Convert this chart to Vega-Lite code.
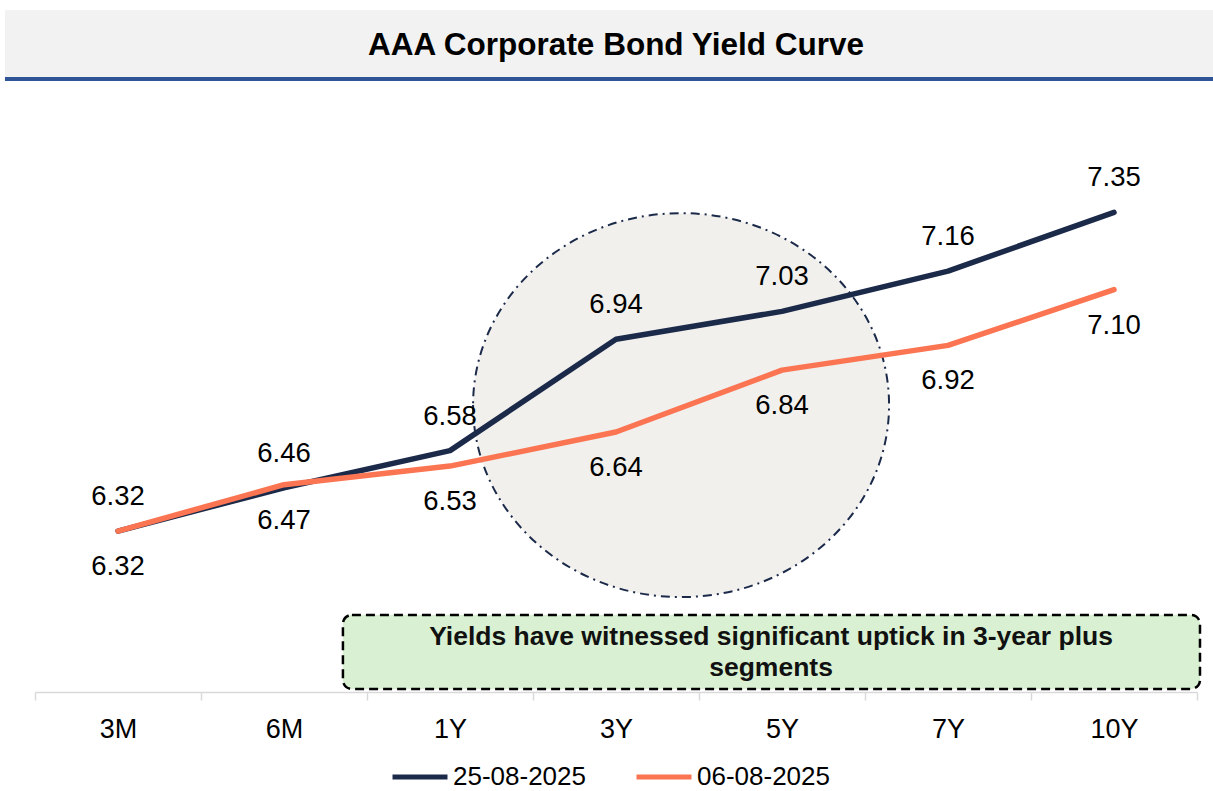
{
  "$schema": "https://vega.github.io/schema/vega-lite/v6.json",
  "width": 1162,
  "height": 588,
  "autosize": {"type": "none"},
  "padding": {"left": 35, "top": 104, "right": 16, "bottom": 99},
  "background": "white",
  "config": {
    "view": {"stroke": null},
    "font": "Liberation Sans",
    "axisX": {
      "domainColor": "#d9d9d9",
      "domainWidth": 1.5,
      "tickColor": "#d9d9d9",
      "tickWidth": 1.5,
      "tickSize": 8,
      "labelFontSize": 27,
      "labelColor": "#000000",
      "labelFont": "Liberation Sans",
      "labelPadding": 16,
      "grid": false
    }
  },
  "data": {
    "values": [
      {"tenor": "3M", "date": "25-08-2025", "yield": 6.32},
      {"tenor": "6M", "date": "25-08-2025", "yield": 6.46},
      {"tenor": "1Y", "date": "25-08-2025", "yield": 6.58},
      {"tenor": "3Y", "date": "25-08-2025", "yield": 6.94},
      {"tenor": "5Y", "date": "25-08-2025", "yield": 7.03},
      {"tenor": "7Y", "date": "25-08-2025", "yield": 7.16},
      {"tenor": "10Y", "date": "25-08-2025", "yield": 7.35},
      {"tenor": "3M", "date": "06-08-2025", "yield": 6.32},
      {"tenor": "6M", "date": "06-08-2025", "yield": 6.47},
      {"tenor": "1Y", "date": "06-08-2025", "yield": 6.53},
      {"tenor": "3Y", "date": "06-08-2025", "yield": 6.64},
      {"tenor": "5Y", "date": "06-08-2025", "yield": 6.84},
      {"tenor": "7Y", "date": "06-08-2025", "yield": 6.92},
      {"tenor": "10Y", "date": "06-08-2025", "yield": 7.10}
    ]
  },
  "transform": [
    {"calculate": "indexof(['3M','6M','1Y','3Y','5Y','7Y','10Y'], datum.tenor)", "as": "pos"}
  ],
  "layer": [
    {
      "data": {"values": [{}]},
      "mark": {"type": "rect", "fill": "#f2f2f2", "clip": false},
      "encoding": {
        "x": {"datum": -0.681, "type": "quantitative", "title": null, "scale": {"domain": [-0.5, 6.5], "nice": false, "zero": false}},
        "x2": {"datum": 6.6},
        "y": {"datum": 7.787, "type": "quantitative", "title": null, "scale": {"domain": [5.8, 7.7], "nice": false, "zero": false}, "axis": null},
        "y2": {"datum": 8.004}
      }
    },
    {
      "data": {"values": [{}]},
      "mark": {"type": "rule", "stroke": "#2f5597", "strokeWidth": 4, "clip": false},
      "encoding": {
        "x": {"datum": -0.681, "type": "quantitative", "title": null, "scale": {"domain": [-0.5, 6.5], "nice": false, "zero": false}},
        "x2": {"datum": 6.6},
        "y": {"datum": 7.781, "type": "quantitative", "title": null, "scale": {"domain": [5.8, 7.7], "nice": false, "zero": false}, "axis": null}
      }
    },
    {
      "data": {"values": [{}]},
      "mark": {"type": "text", "text": "AAA Corporate Bond Yield Curve", "fontSize": 31.5, "fontWeight": "bold", "font": "Liberation Sans", "color": "#000000", "baseline": "middle", "align": "center", "clip": false},
      "encoding": {
        "x": {"datum": 3.0, "type": "quantitative", "title": null, "scale": {"domain": [-0.5, 6.5], "nice": false, "zero": false}},
        "y": {"datum": 7.888, "type": "quantitative", "title": null, "scale": {"domain": [5.8, 7.7], "nice": false, "zero": false}, "axis": null}
      }
    },
    {
      "data": {"values": [{}]},
      "mark": {"type": "point", "shape": "M -1 0 A 1 0.923 0 1 0 1 0 A 1 0.923 0 1 0 -1 0 Z", "size": 173056, "filled": false, "fill": "#f1f0ed", "fillOpacity": 1, "stroke": "#1c2a4a", "strokeWidth": 2, "strokeDash": [9, 5, 2, 5], "opacity": 1},
      "encoding": {
        "x": {"datum": 3.392, "type": "quantitative", "title": null, "scale": {"domain": [-0.5, 6.5], "nice": false, "zero": false}},
        "y": {"datum": 6.727, "type": "quantitative", "title": null, "scale": {"domain": [5.8, 7.7], "nice": false, "zero": false}, "axis": null}
      }
    },
    {
      "data": {"values": [{}]},
      "mark": {"type": "rect", "fill": "#d9f1d2", "stroke": "#000000", "strokeWidth": 2.5, "strokeDash": [9, 5], "cornerRadius": 9, "clip": false},
      "encoding": {
        "x": {"datum": 1.355, "type": "quantitative", "title": null, "scale": {"domain": [-0.5, 6.5], "nice": false, "zero": false}},
        "x2": {"datum": 6.518},
        "y": {"datum": 6.049, "type": "quantitative", "title": null, "scale": {"domain": [5.8, 7.7], "nice": false, "zero": false}, "axis": null},
        "y2": {"datum": 5.81}
      }
    },
    {
      "data": {"values": [{}]},
      "mark": {"type": "text", "text": ["Yields have witnessed significant uptick in 3-year plus", "segments"], "lineHeight": 31, "fontSize": 26.5, "fontWeight": "bold", "font": "Liberation Sans Narrow, Liberation Sans", "color": "#111111", "baseline": "middle", "align": "center", "clip": false},
      "encoding": {
        "x": {"datum": 3.934, "type": "quantitative", "title": null, "scale": {"domain": [-0.5, 6.5], "nice": false, "zero": false}},
        "y": {"datum": 5.978, "type": "quantitative", "title": null, "scale": {"domain": [5.8, 7.7], "nice": false, "zero": false}, "axis": null}
      }
    },
    {
      "transform": [{"filter": "datum.date === '25-08-2025'"}],
      "mark": {"type": "line", "strokeWidth": 5.5, "strokeCap": "round", "strokeJoin": "round"},
      "encoding": {
        "x": {"field": "pos", "type": "quantitative", "title": null, "scale": {"domain": [-0.5, 6.5], "nice": false, "zero": false},
          "axis": {"title": null, "values": [-0.5, 0, 0.5, 1, 1.5, 2, 2.5, 3, 3.5, 4, 4.5, 5, 5.5, 6, 6.5],
            "labelExpr": "datum.value % 1 === 0 ? ['3M','6M','1Y','3Y','5Y','7Y','10Y'][datum.value] : ''",
            "labelOverlap": false, "labelFlush": false,
            "tickOpacity": {"condition": {"test": "datum.value % 1 !== 0", "value": 1}, "value": 0}}},
        "y": {"field": "yield", "type": "quantitative", "title": null, "scale": {"domain": [5.8, 7.7], "nice": false, "zero": false}, "axis": null},
        "color": {"field": "date", "type": "nominal", "sort": null,
          "scale": {"domain": ["25-08-2025", "06-08-2025"], "range": ["#1c2a4a", "#fb7553"]},
          "legend": {"title": null, "orient": "none", "direction": "horizontal", "legendX": 355, "legendY": 643,
            "symbolType": "stroke", "symbolSize": 3025, "symbolStrokeWidth": 5, "labelFontSize": 26, "labelFont": "Liberation Sans",
            "labelColor": "#000000", "columnPadding": 40, "labelOffset": 3, "labelLimit": 300}}
      }
    },
    {
      "transform": [{"filter": "datum.date === '06-08-2025'"}],
      "mark": {"type": "line", "strokeWidth": 5.5, "strokeCap": "round", "strokeJoin": "round"},
      "encoding": {
        "x": {"field": "pos", "type": "quantitative", "title": null, "scale": {"domain": [-0.5, 6.5], "nice": false, "zero": false}},
        "y": {"field": "yield", "type": "quantitative", "title": null, "scale": {"domain": [5.8, 7.7], "nice": false, "zero": false}, "axis": null},
        "color": {"field": "date", "type": "nominal", "sort": null,
          "scale": {"domain": ["25-08-2025", "06-08-2025"], "range": ["#1c2a4a", "#fb7553"]}}
      }
    },
    {
      "transform": [{"filter": "datum.date === '25-08-2025'"}],
      "mark": {"type": "text", "dy": -34, "fontSize": 27.5, "font": "Liberation Sans", "color": "#000000", "baseline": "middle"},
      "encoding": {
        "x": {"field": "pos", "type": "quantitative", "title": null, "scale": {"domain": [-0.5, 6.5], "nice": false, "zero": false}},
        "y": {"field": "yield", "type": "quantitative", "title": null, "scale": {"domain": [5.8, 7.7], "nice": false, "zero": false}, "axis": null},
        "text": {"field": "yield", "type": "quantitative", "format": ".2f"}
      }
    },
    {
      "transform": [{"filter": "datum.date === '06-08-2025'"}],
      "mark": {"type": "text", "dy": 36, "fontSize": 27.5, "font": "Liberation Sans", "color": "#000000", "baseline": "middle"},
      "encoding": {
        "x": {"field": "pos", "type": "quantitative", "title": null, "scale": {"domain": [-0.5, 6.5], "nice": false, "zero": false}},
        "y": {"field": "yield", "type": "quantitative", "title": null, "scale": {"domain": [5.8, 7.7], "nice": false, "zero": false}, "axis": null},
        "text": {"field": "yield", "type": "quantitative", "format": ".2f"}
      }
    }
  ]
}
